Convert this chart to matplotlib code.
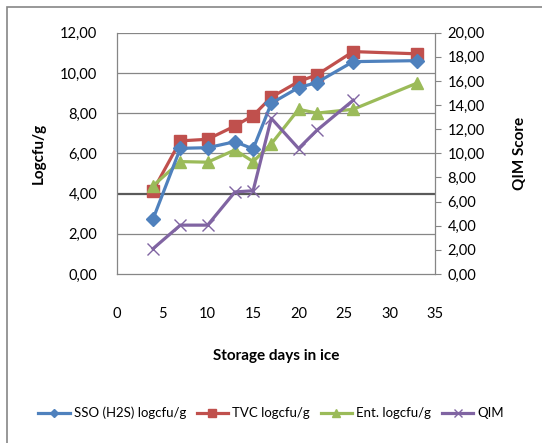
import numpy as np
import matplotlib
matplotlib.use('Agg')
import matplotlib.pyplot as plt
from matplotlib.patches import Rectangle
from matplotlib.ticker import FuncFormatter

days = [4, 7, 10, 13, 15, 17, 20, 22, 26, 33]
sso = [2.74, 6.25, 6.28, 6.58, 6.22, 8.49, 9.27, 9.52, 10.56, 10.61]
tvc = [4.15, 6.62, 6.70, 7.36, 7.88, 8.79, 9.57, 9.90, 11.06, 10.95]
ent = [4.39, 5.59, 5.56, 6.17, 5.59, 6.47, 8.19, 8.00, 8.19, 9.49]
qim_days = [4, 7, 10, 13, 15, 17, 20, 22, 26]
qim = [2.1, 4.05, 4.05, 6.8, 6.9, 12.9, 10.4, 11.9, 14.4]

plt.rcParams['font.family'] = ['Lato', 'DejaVu Sans']

fig = plt.figure(figsize=(5.42, 4.43), dpi=100)
fig.set_facecolor('white')
# outer chart border (cut off at right and bottom)
fig.patches.append(Rectangle((7 / 542, -0.05), 1.2, 1 - 7 / 443 + 0.05,
                             transform=fig.transFigure, fill=False,
                             edgecolor='#868686', linewidth=1.2))

ax = fig.add_axes([0.2153, 0.3815, 0.5873, 0.5447])
grid = '#868686'
comma = FuncFormatter(lambda v, p: '{:.2f}'.format(v).replace('.', ','))

ax.plot(days, sso, color='#4F81BD', lw=2.3, marker='D', ms=7, zorder=3)
ax.plot(days, tvc, color='#C0504D', lw=2.3, marker='s', ms=9, zorder=2)
ax.plot(days, ent, color='#9BBB59', lw=2.3, marker='^', ms=9, zorder=2)

ax.set_xlim(0, 35)
ax.set_ylim(0, 12)
ax.set_xticks(np.arange(0, 36, 5))
ax.set_yticks(np.arange(0, 13, 2))
ax.yaxis.set_major_formatter(comma)
for y in range(2, 13, 2):
    if y == 4:
        ax.axhline(y, color='#5a5a5a', lw=1.6, zorder=0)
    else:
        ax.axhline(y, color=grid, lw=0.9, zorder=0)
ax.tick_params(axis='x', length=0, labelsize=10.5, pad=24)
ax.tick_params(axis='y', length=0, labelsize=10.5, pad=14)
for s in ['top', 'right']:
    ax.spines[s].set_visible(False)
for s in ['left', 'bottom']:
    ax.spines[s].set_color(grid)
    ax.spines[s].set_linewidth(0.9)
ax.set_ylabel('Logcfu/g', fontsize=11, fontweight='bold', labelpad=10)
ax.set_xlabel('Storage days in ice', fontsize=11, fontweight='bold', labelpad=20)

ax2 = ax.twinx()
ax2.plot(qim_days, qim, color='#8064A2', lw=2.3, marker='x', ms=9, mew=1, zorder=3)
ax2.set_ylim(0, 20)
ax2.set_yticks(np.arange(0, 21, 2))
ax2.yaxis.set_major_formatter(comma)
ax2.tick_params(axis='y', length=4, color=grid, labelsize=10.5, pad=5)
for s in ['top', 'left', 'bottom']:
    ax2.spines[s].set_visible(False)
ax2.spines['right'].set_color(grid)
ax2.spines['right'].set_linewidth(0.9)
ax2.set_ylabel('QIM Score', fontsize=11, fontweight='bold', labelpad=20)

h = ax.get_lines()[:3] + ax2.get_lines()[:1]
labels = ['SSO (H2S) logcfu/g', 'TVC logcfu/g', 'Ent. logcfu/g', 'QIM']
leg = fig.legend(h, labels, loc='center', bbox_to_anchor=(0.5, 1 - 413 / 443),
                 ncol=4, frameon=False, fontsize=9.5, handlelength=2.4,
                 columnspacing=0.8, handletextpad=0.3, markerscale=0.6)

fig.savefig('out.png', dpi=100, facecolor='white')
